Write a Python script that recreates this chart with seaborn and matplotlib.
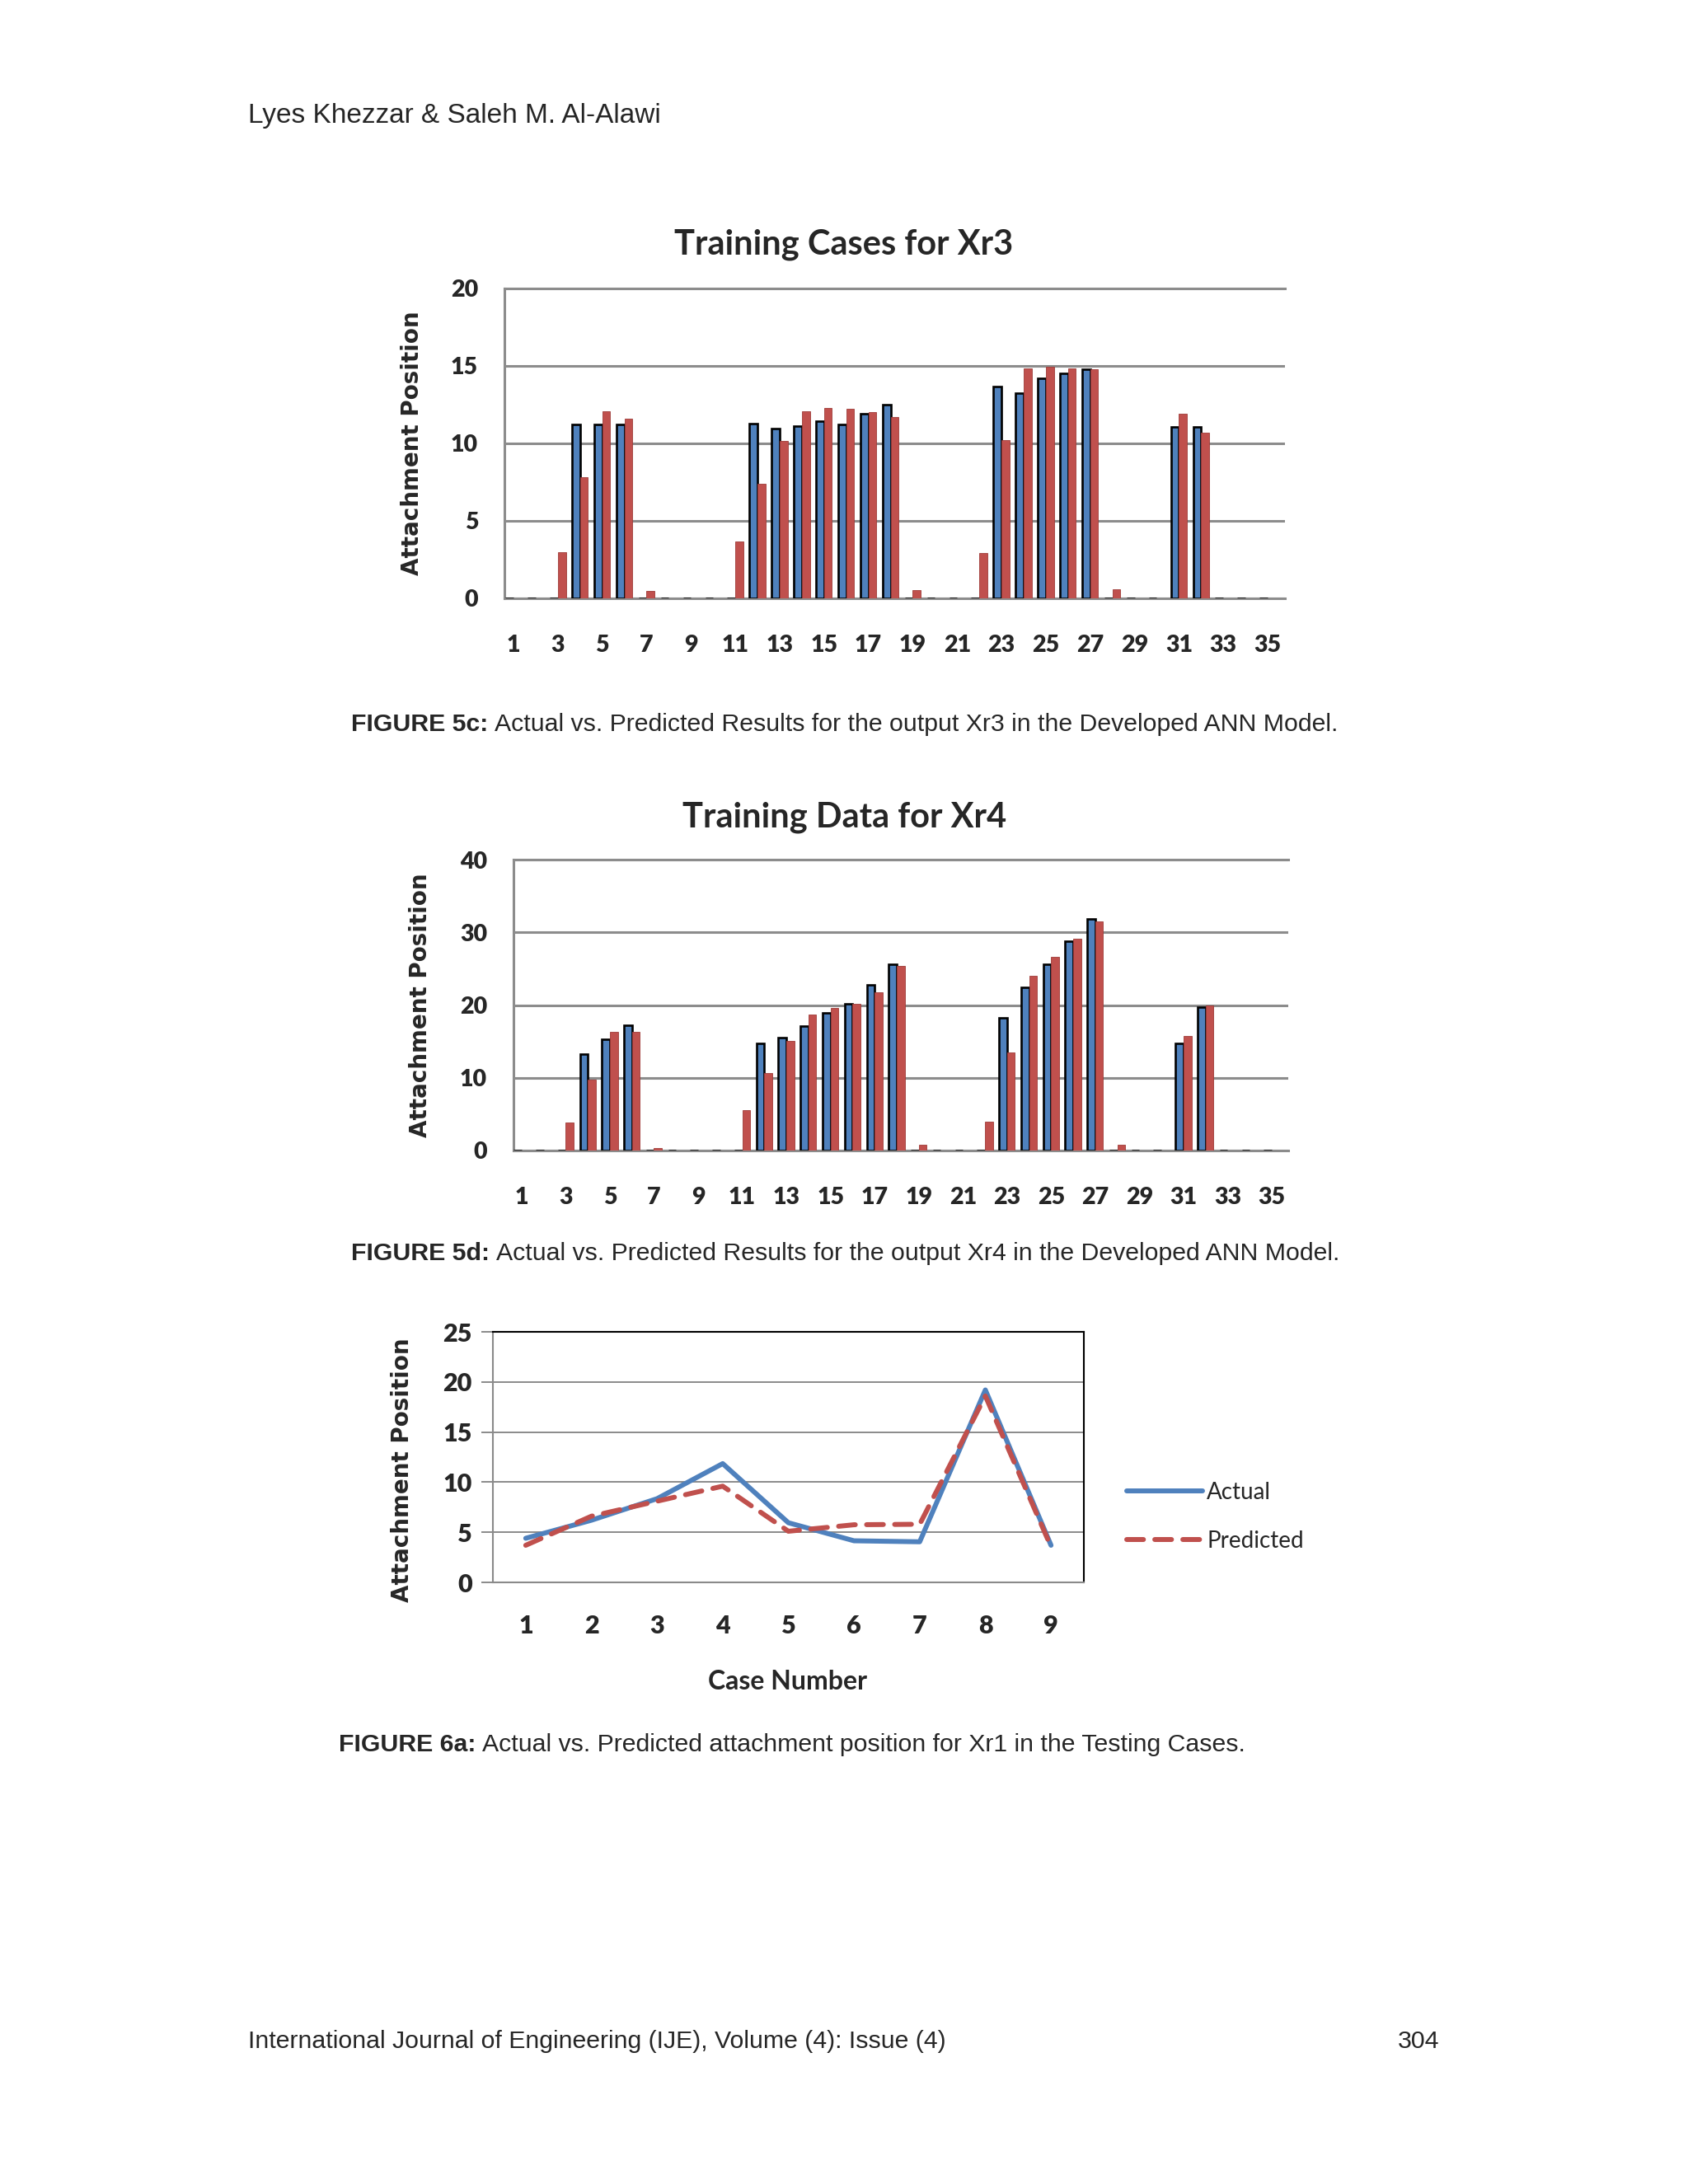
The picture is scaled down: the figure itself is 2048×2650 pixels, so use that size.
import pandas as pd
import matplotlib.pyplot as plt
import seaborn as sns

# ---------------------------
# Data
# ---------------------------
cases = [str(i) for i in range(1, 36)]

xr3_actual = [0, 0, 0, 11.25, 11.25, 11.25, 0, 0, 0, 0, 0, 11.3, 10.95, 11.1, 11.45, 11.2, 11.9, 12.5,
              0, 0, 0, 0, 13.65, 13.25, 14.2, 14.5, 14.8, 0, 0, 0, 11.05, 11.05, 0, 0, 0]
xr3_pred = [0, 0, 3.0, 7.8, 12.1, 11.6, 0.5, 0, 0, 0, 3.65, 7.4, 10.15, 12.1, 12.3, 12.25, 12.0, 11.7,
            0.55, 0, 0, 2.95, 10.2, 14.85, 14.95, 14.85, 14.8, 0.6, 0, 0, 11.9, 10.7, 0, 0, 0]

xr4_actual = [0, 0, 0, 13.3, 15.3, 17.25, 0, 0, 0, 0, 0, 14.7, 15.5, 17.1, 18.9, 20.15, 22.8, 25.6,
              0, 0, 0, 0, 18.2, 22.4, 25.6, 28.8, 31.8, 0, 0, 0, 14.7, 19.75, 0, 0, 0]
xr4_pred = [0, 0, 3.85, 9.7, 16.3, 16.3, 0.3, 0, 0, 0, 5.6, 10.7, 15.1, 18.75, 19.6, 20.15, 21.7, 25.4,
            0.8, 0, 0, 3.96, 13.5, 24.0, 26.6, 29.1, 31.5, 0.75, 0, 0, 15.8, 19.9, 0, 0, 0]

test_cases = [1, 2, 3, 4, 5, 6, 7, 8, 9]
xr1_actual = [4.4, 6.2, 8.35, 11.85, 5.95, 4.15, 4.05, 19.2, 3.7]
xr1_pred = [3.7, 6.6, 8.1, 9.6, 5.1, 5.75, 5.8, 18.6, 3.55]

BLUE = "#4F81BD"
RED = "#C0504D"
GRID = "#8C8C8C"

sns.set_theme(style="white")
plt.rcParams["font.family"] = ["Liberation Sans", "DejaVu Sans"]

W, H = 2048, 2650
fig = plt.figure(figsize=(W / 100, H / 100), dpi=100)
fig.patch.set_facecolor("white")


def px_axes(left, top, right, bottom):
    return fig.add_axes([left / W, 1 - bottom / H, (right - left) / W, (bottom - top) / H])


def bar_chart(ax, actual, pred, ymax, step, title, title_x, title_y, ylab_x, xlim):
    df = pd.DataFrame({
        "case": cases * 2,
        "value": actual + pred,
        "series": ["Actual"] * len(cases) + ["Predicted"] * len(cases),
    })
    sns.barplot(data=df, x="case", y="value", hue="series", order=cases,
                hue_order=["Actual", "Predicted"], palette=[BLUE, RED],
                width=0.72, saturation=1, legend=False, ax=ax)
    # blue bars get a black outline like the 3D cylinders (zero ones show as dashes on the floor)
    for p in ax.containers[0]:
        p.set_edgecolor("black")
        p.set_linewidth(1.9)
        p.set_zorder(3)
    for p in ax.containers[1]:
        p.set_edgecolor("#9E3B38")
        p.set_linewidth(0.6)
        p.set_zorder(3)

    ax.set_ylim(0, ymax)
    ax.set_xlim(*xlim)
    ax.set_yticks(range(0, ymax + 1, step))
    ax.yaxis.grid(True, color=GRID, linewidth=2.2)
    ax.set_axisbelow(True)
    for s in ["left", "top", "bottom"]:
        ax.spines[s].set_color(GRID)
        ax.spines[s].set_linewidth(2.2)
    ax.spines["right"].set_visible(False)

    ax.set_xticks(range(0, 35, 2))
    ax.set_xticklabels(cases[::2])
    ax.tick_params(axis="x", length=0, pad=32)
    ax.tick_params(axis="y", length=4, color=GRID, pad=19)
    for lbl in ax.get_xticklabels() + ax.get_yticklabels():
        lbl.set_fontfamily("Lato")
        lbl.set_fontweight("heavy")
        lbl.set_fontsize(20.5)

    ax.set_xlabel("")
    ax.set_ylabel("Attachment Position", fontsize=20, fontweight="bold",
                  fontfamily="DejaVu Sans", va="center")
    ax.yaxis.set_label_coords(ylab_x, 0.5)
    ax.text(title_x, title_y, title, transform=ax.transAxes, ha="center", va="center",
            fontsize=30, fontweight="bold", fontfamily="Lato")


# ---------------------------
# Figure 5c: Xr3
# ---------------------------
ax1 = px_axes(612, 350, 1559, 726)
bar_chart(ax1, xr3_actual, xr3_pred, 20, 5, "Training Cases for Xr3",
          0.435, 1.141, -0.118, (-0.41, 34.78))

# ---------------------------
# Figure 5d: Xr4
# ---------------------------
ax2 = px_axes(623, 1043, 1563, 1396)
bar_chart(ax2, xr4_actual, xr4_pred, 40, 10, "Training Data for Xr4",
          0.427, 1.144, -0.120, (-0.37, 34.75))

# ---------------------------
# Figure 6a: Xr1 testing cases (line chart)
# ---------------------------
ax3 = px_axes(598, 1616, 1315, 1920)
ldf = pd.DataFrame({
    "case": test_cases * 2,
    "value": xr1_actual + xr1_pred,
    "series": ["Actual"] * len(test_cases) + ["Predicted"] * len(test_cases),
})
sns.lineplot(data=ldf, x="case", y="value", hue="series", style="series",
             palette={"Actual": BLUE, "Predicted": RED},
             dashes={"Actual": "", "Predicted": (3.4, 2.3)},
             linewidth=4.3, ax=ax3)
for ln in ax3.get_lines():
    ln.set_dash_capstyle("round")
    ln.set_solid_capstyle("round")

ax3.set_xlim(0.5, 9.5)
ax3.set_ylim(0, 25)
ax3.set_xticks(test_cases)
ax3.set_yticks(range(0, 26, 5))
ax3.yaxis.grid(True, color="#8A8A8A", linewidth=1.4)
ax3.xaxis.grid(False)
ax3.spines["top"].set_color("black")
ax3.spines["right"].set_color("black")
ax3.spines["left"].set_color("#8A8A8A")
ax3.spines["bottom"].set_color("#8A8A8A")
for s in ax3.spines.values():
    s.set_linewidth(1.5)
ax3.tick_params(axis="y", length=10, width=1.4, color="#8A8A8A", left=True, pad=8)
ax3.tick_params(axis="x", length=0, pad=28)
for lbl in ax3.get_xticklabels() + ax3.get_yticklabels():
    lbl.set_fontfamily("Lato")
    lbl.set_fontweight("heavy")
    lbl.set_fontsize(22)

ax3.set_ylabel("Attachment Position", fontsize=20, fontweight="bold",
               fontfamily="DejaVu Sans", va="center")
ax3.yaxis.set_label_coords(-0.153, 0.45)
ax3.set_xlabel("Case Number", fontsize=23, fontweight="bold", fontfamily="Lato", va="center")
ax3.xaxis.set_label_coords(0.499, -0.398)

handles, labels = ax3.get_legend_handles_labels()
leg = ax3.legend(handles, labels, loc="center left", bbox_to_anchor=(1.053, 0.262),
                 frameon=False, handlelength=3.3, handletextpad=0.2, labelspacing=1.2,
                 borderpad=0, prop={"family": "Lato", "size": 20})
for h in leg.get_lines():
    h.set_linewidth(4.3)

# ---------------------------
# Page text: header, captions, footer
# ---------------------------
renderer = fig.canvas.get_renderer()


def caption(x, y, bold, rest):
    t = fig.text(x / W, 1 - y / H, bold, fontsize=21.8, fontweight="bold", va="center")
    bb = t.get_window_extent(renderer)
    fig.text((bb.x1 + 8) / W, 1 - y / H, rest, fontsize=21.8, va="center")


fig.text(301 / W, 1 - 140 / H, "Lyes Khezzar & Saleh M. Al-Alawi", fontsize=24, va="center")
caption(426, 879, "FIGURE 5c:", "Actual vs. Predicted Results for the output Xr3 in the Developed ANN Model.")
caption(426, 1521, "FIGURE 5d:", "Actual vs. Predicted Results for the output Xr4 in the Developed ANN Model.")
caption(411, 2117, "FIGURE 6a:", "Actual vs. Predicted attachment position for Xr1 in the Testing Cases.")
fig.text(301 / W, 1 - 2477 / H, "International Journal of Engineering (IJE), Volume (4): Issue (4)",
         fontsize=21.8, va="center")
fig.text(1746 / W, 1 - 2477 / H, "304", fontsize=21.8, va="center", ha="right")

fig.savefig("out.png", dpi=100, facecolor="white")
